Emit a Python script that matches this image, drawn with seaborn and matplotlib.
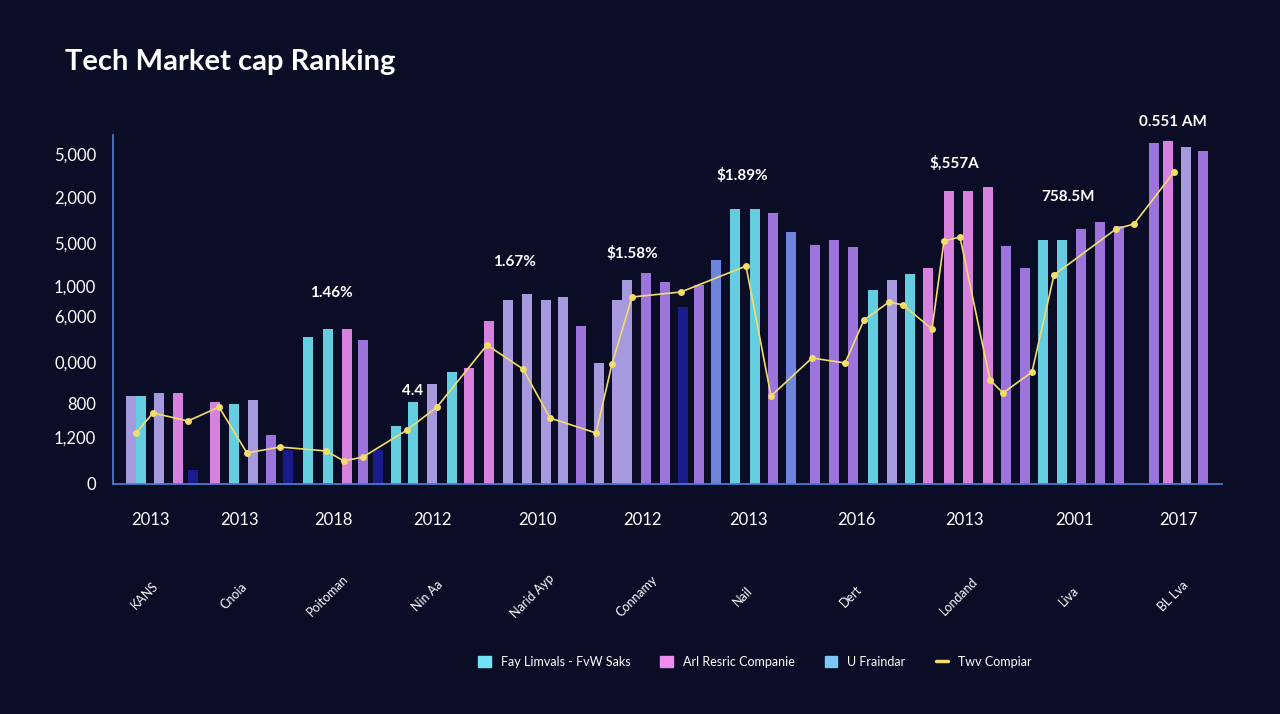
import matplotlib
matplotlib.use("Agg")
import matplotlib.pyplot as plt
import seaborn as sns
import numpy as np
from matplotlib.patches import Patch
from matplotlib.lines import Line2D

sns.set_theme(style="dark")
plt.rcParams['font.family'] = ['Lato', 'DejaVu Sans']

BG = "#0b0d26"
COL = {"c": "#6fe3f5", "p": "#ee8ef2", "l": "#b9a9f2", "v": "#ad80f0", "b": "#7b92f2", "d": "#1c1e9a"}

bar_x = [131,141,159,178,193, 215,234,253,271,288, 308,328,347,363,378, 396,413,432,452,469,
         489,508,527,546,563,581, 599,617,627,646,665,683,699, 716,735,755,773,791,
         815,834,853,873,892,910,928, 949,968,988,1006,1025, 1043,1062,1081,1100,1119,
         1154,1168,1186,1203]
bar_top_px = [396,396,393,393,470, 402,404,400,435,450, 337,329,329,340,450, 426,402,384,372,368,
              321,300,294,300,297,326, 363,300,280,273,282,307,285, 260,209,209,213,232,
              245,240,247,290,280,274,268, 191,191,187,246,268, 240,240,229,222,226,
              143,141,147,151]
bar_kind = list("lclpd" "pclvd" "ccpvd" "cclcp" "plllly" "lllvvdv" "bccvb" "vvvclcp" "pppvv" "ccvvv" "vplv".replace("y","v"))
bar_h = [484 - t for t in bar_top_px]

line_x = [136,153,188,219,247,280,326,344,363,407,437,487,523,550,596,612,632,681,746,771,
          812,845,864,889,903,932,944,960,990,1003,1032,1054,1116,1134,1174]
line_px = [433,413,421,407,453,447,451,461,457,430,407,345,369,418,433,364,297,292,266,396,
           358,363,320,302,305,329,241,237,380,393,372,275,229,224,172]
line_y = [484 - p for p in line_px]

ytick_px = [484,437,403,362,316,286,243,197,154]
ytick_labels = ["0","1,200","800","0,000","6,000","1,000","5,000","2,000","5,000"]
year_x = [150,239,333,432,537,642,748,856,964,1074,1178]
year_labels = ["2013","2013","2018","2012","2010","2012","2013","2016","2013","2001","2017"]
cat_labels = ["KANS","Cnoia","Poitoman","Nin Aa","Narid Ayp","Connamy","Nail","Dert","Londand","Liva","BL Lva"]
ann_x = [331,413,514,632,742,954,1068,1173]
ann_px = [293,391,262,254,175,163,197,122]
ann_text = ["1.46%","4.4","1.67%","$1.58%","$1.89%","$,557A","758.5M","0.551 AM"]

fig = plt.figure(figsize=(12.8, 7.14), dpi=100, facecolor=BG)
ax = fig.add_axes([113/1280, (714-484)/714, (1222-113)/1280, (484-135)/714])
ax.set_facecolor(BG)
ax.set_xlim(113, 1222)
ax.set_ylim(0, 349)

for x, h, k in zip(bar_x, bar_h, bar_kind):
    ax.bar(x, h, width=10, color=COL[k], alpha=0.9, edgecolor="none", zorder=2)

sns.lineplot(x=line_x, y=line_y, ax=ax, color="#f2dc6a", linewidth=1.2, marker="o",
             markersize=5, markeredgewidth=0, zorder=4)

ax.set_yticks([484 - p for p in ytick_px])
ax.set_yticklabels(ytick_labels, color="white", fontsize=12)
ax.set_xticks(year_x)
ax.set_xticklabels(year_labels, color="white", fontsize=12)
ax.tick_params(axis="x", pad=20, length=0)
ax.tick_params(axis="y", length=0, pad=12)
ax.grid(False)
for s in ["top", "right"]:
    ax.spines[s].set_visible(False)
ax.spines["left"].set_color("#4a7fd0")
ax.spines["bottom"].set_color("#4a7fd0")

for x, lab in zip(year_x, cat_labels):
    ax.text(x - 5, -112, lab, rotation=45, color="white", fontsize=9, ha="center", va="center")
for x, p, t in zip(ann_x, ann_px, ann_text):
    ax.text(x, 484 - p, t, color="white", fontsize=11, fontweight="bold", ha="center", va="center")

fig.text(65/1280, 1 - 62/714, "Tech Market cap Ranking", color="white", fontsize=21,
         fontweight="bold", va="center")

handles = [Patch(color=COL["c"]), Patch(color=COL["p"]), Patch(color="#7ec8f5"),
           Line2D([0], [0], color="#f2dc6a", lw=2.5)]
labels = ["Fay Limvals - FvW Saks", "Arl Resric Companie", "U Fraindar", "Twv Compiar"]
leg = fig.legend(handles, labels, loc="center", bbox_to_anchor=(755/1280, 1 - 662/714), ncol=4,
                 frameon=False, fontsize=9, labelcolor="white", handlelength=1.0,
                 handleheight=1.0, columnspacing=2.4)

fig.savefig("out.png", dpi=100, facecolor=BG)
